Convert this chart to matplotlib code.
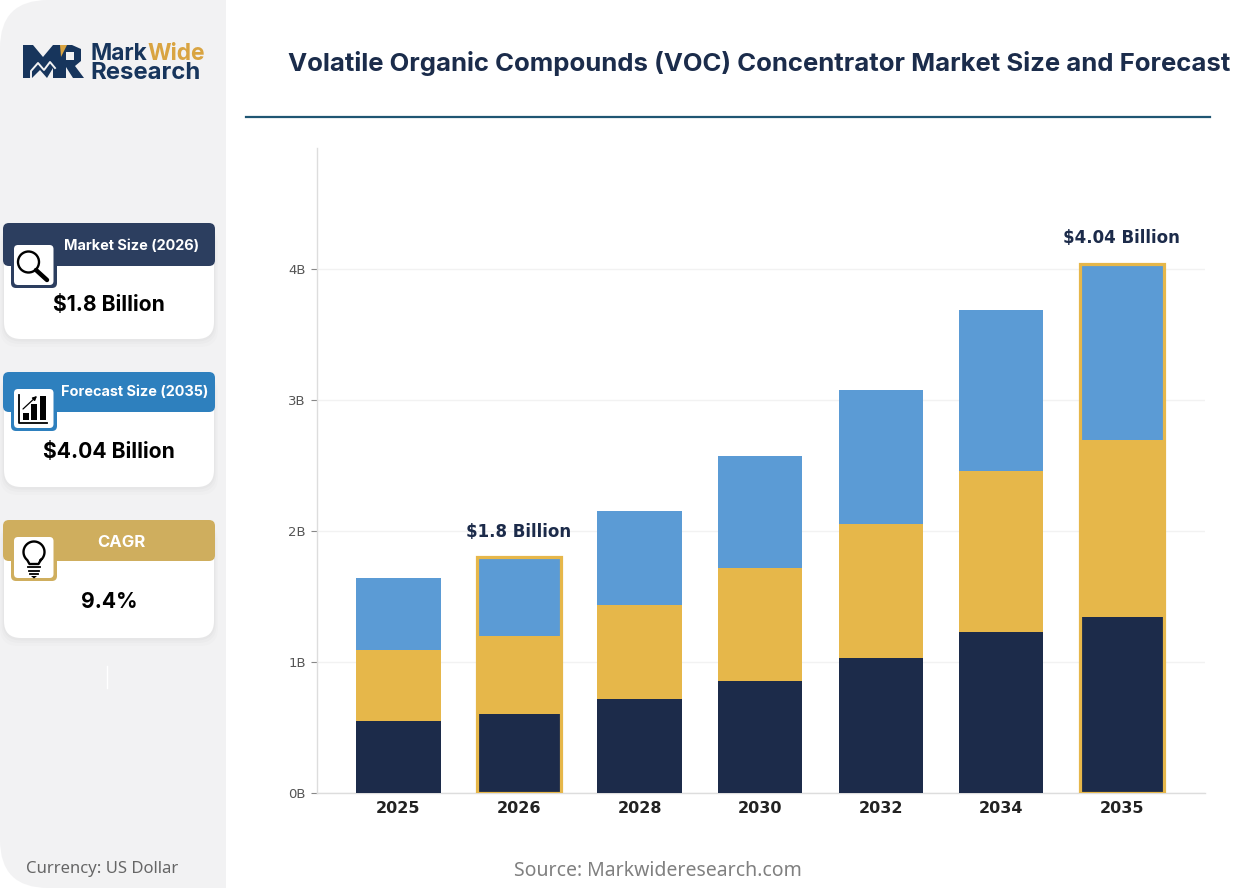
import matplotlib
matplotlib.use("Agg")
import matplotlib.pyplot as plt
from matplotlib.patches import FancyBboxPatch, Rectangle, Circle, Polygon
import numpy as np

years = ["2025", "2026", "2028", "2030", "2032", "2034", "2035"]
seg_dark = [0.55, 0.60, 0.72, 0.855, 1.03, 1.23, 1.345]
seg_gold = [0.54, 0.60, 0.715, 0.865, 1.02, 1.23, 1.35]
seg_blue = [0.55, 0.60, 0.715, 0.85, 1.03, 1.23, 1.345]
highlight = {"2026": "$1.8 Billion", "2035": "$4.04 Billion"}
yticks = [0, 1, 2, 3, 4]
yticklabels = ["0B", "1B", "2B", "3B", "4B"]
title = "Volatile Organic Compounds (VOC) Concentrator Market Size and Forecast"
# label, value, colour, top, bottom, header height, tile top, tile bottom, label cx, label y, label size, value y
cards = [
    ("Market Size (2026)", "$1.8 Billion", "#2C3E5F", 223, 339, 43, 245, 288, 132, 246, 10.4, 305),
    ("Forecast Size (2035)", "$4.04 Billion", "#2E80BE", 372, 487, 40, 389, 431, 135, 392, 10.4, 452),
    ("CAGR", "9.4%", "#CFAE5E", 520, 638, 41, 537, 581, 121, 542, 12, 602),
]

W, H = 1257, 888
DARK, GOLD, BLUE = "#1C2B4A", "#E6B74A", "#5B9BD5"
SIDE = "#F2F2F3"
fig = plt.figure(figsize=(W / 100, H / 100), dpi=100, facecolor="white")

bg = fig.add_axes([0, 0, 1, 1], zorder=0)
bg.set_xlim(0, W); bg.set_ylim(H, 0); bg.axis("off")

# sidebar with rounded left corners
bg.add_patch(FancyBboxPatch((0, 0), 200, H, boxstyle="round,pad=0,rounding_size=48", fc=SIDE, ec="none"))
bg.add_patch(Rectangle((100, 0), 126, H, fc=SIDE, ec="none"))

# logo
c = "#17355C"
bg.add_patch(Polygon([(23, 45), (33, 45), (43, 57), (53, 45), (61, 45), (61, 78), (53, 78),
                      (53, 68), (47, 78), (40, 70), (32, 78), (23, 78)], fc=c, ec="none"))
bg.plot([31, 31, 38, 44, 50, 55], [78, 71, 63, 70, 62, 68], color=SIDE, lw=1.4)
bg.add_patch(Polygon([(60, 45), (72, 45), (81, 49), (81, 61), (75, 66), (84, 78), (73, 78),
                      (66, 67), (66, 78), (60, 78)], fc=c, ec="none"))
bg.add_patch(Rectangle((66, 52), 8, 8, fc=SIDE, ec="none"))
bg.add_patch(Polygon([(60, 45), (67, 45), (61, 57)], fc="#D9A441", ec="none"))
bg.text(90, 54, "Mark", fontsize=16.4, fontweight="bold", family="Inter", color="#17355C", va="center")
bg.text(147.5, 54, "Wide", fontsize=16.4, fontweight="bold", family="Inter", color="#D9A441", va="center")
bg.text(90, 73, "Research", fontsize=17.2, fontweight="bold", family="Inter", color="#17355C", va="center")


def rbox(ax, x0, y0, x1, y1, r, **kw):
    ax.add_patch(FancyBboxPatch((x0, y0), x1 - x0, y1 - y0, boxstyle=f"round,pad=0,rounding_size={r}", **kw))


for label, val, col, y0, y1, hh, t0, t1, cx, ly, ls, vy in cards:
    for d, a in ((8, .012), (5, .015), (2.5, .02)):
        rbox(bg, 4 - d / 2, y0 + 3, 214 + d / 2, y1 + d, 18, fc="black", ec="none", alpha=a)
    rbox(bg, 4, y0 + 3, 214, y1, 17, fc="white", ec="none")
    rbox(bg, 3, y0, 215, y0 + hh, 6, fc=col, ec="none")
    rbox(bg, 11, t0, 57, t1, 5, fc=col, ec="none")
    rbox(bg, 14, t0, 53.5, t1 - 3, 4, fc="white", ec="none")
    bg.text(cx, ly, label, color="white", fontsize=ls, fontweight="bold", family="Inter", ha="center", va="center")
    bg.text(109, vy, val, color="black", fontsize=15.2, fontweight="bold", family="Inter", ha="center", va="center")

# magnifier
bg.add_patch(Circle((28.5, 262), 10.5, fc="none", ec="black", lw=1.7))
bg.plot([36, 47], [270, 280], color="black", lw=3.2, solid_capstyle="round")

# chart icon
bg.plot([19, 19, 47], [395, 423, 423], color="black", lw=1.3)
for x0, top in ((23, 413), (31, 404), (40, 396)):
    bg.add_patch(Rectangle((x0, top), 6, 420 - top, fc="black", ec="none"))
bg.annotate("", xy=(37, 396), xytext=(23, 409),
            arrowprops=dict(arrowstyle="-|>", lw=0.9, color="black", mutation_scale=6, shrinkA=0, shrinkB=0))

# bulb
theta = np.radians(np.linspace(-50, 230, 60))
bulb_x = 34 + 10.5 * np.cos(theta)
bulb_y = 552 - 10.5 * np.sin(theta)
bg.plot(np.r_[bulb_x, 29.5, 38.5, bulb_x[0]], np.r_[bulb_y, 564, 564, bulb_y[0]], color="black", lw=1.7)
for y, a, b in ((567, 28, 40), (570.5, 29, 39), (574, 30, 38)):
    bg.plot([a, b], [y, y], color="black", lw=1.3)
bg.add_patch(Polygon([(31, 576), (37, 576), (34, 578.5)], fc="black", ec="none"))

bg.plot([106.5, 106.5], [666, 688], color="white", lw=1)

# header
bg.text(288, 63.5, title, fontsize=18.5, fontweight="bold", family="Inter", color="#1B2C4B", va="center")
bg.plot([246, 1210], [117, 117], color="#1F5673", lw=1.6)

# footer
bg.text(26, 869, "Currency: US Dollar", fontsize=12, family="Noto Sans", color="#666666", va="center")
bg.text(514, 871, "Source: Markwideresearch.com", fontsize=14, family="Noto Sans", color="#808080", va="center")

# main chart
L, R, T, B = 317, 1205, 148, 793
ax = fig.add_axes([L / W, 1 - B / H, (R - L) / W, (B - T) / H], zorder=1)
ax.patch.set_alpha(0)
x = np.arange(len(years))
dark, gold, blue = map(np.array, (seg_dark, seg_gold, seg_blue))
bw = 0.70
ax.bar(x, dark, bw, color=DARK, zorder=3)
ax.bar(x, gold, bw, bottom=dark, color=GOLD, zorder=3)
ax.bar(x, blue, bw, bottom=dark + gold, color=BLUE, zorder=3)
totals = dark + gold + blue
for i, yr in enumerate(years):
    if yr in highlight:
        ax.bar(x[i], totals[i], bw, fill=False, edgecolor=GOLD, linewidth=2.3, zorder=4)
        ax.text(x[i], totals[i] + 0.195, highlight[yr], ha="center", va="center", fontsize=12,
                fontweight="bold", color="#1C2B4A", family="DejaVu Sans")
ax.set_xlim(-0.676, 6.69)
ax.set_ylim(0, 4.924)
ax.set_xticks(x, years, fontsize=11.5, fontweight="bold", color="#222222")
ax.set_yticks(yticks, yticklabels, fontsize=9.5, color="#555555")
ax.tick_params(axis="x", length=0, pad=5.5)
ax.tick_params(axis="y", length=4, width=0.8, color="#888888", pad=4)
ax.grid(axis="y", color="#F2F2F2", lw=1, zorder=0)
ax.set_axisbelow(True)
for s in ("top", "right"):
    ax.spines[s].set_visible(False)
for s in ("left", "bottom"):
    ax.spines[s].set_color("#DDDDDD")
    ax.spines[s].set_linewidth(1)

fig.savefig("out.png", dpi=100)
